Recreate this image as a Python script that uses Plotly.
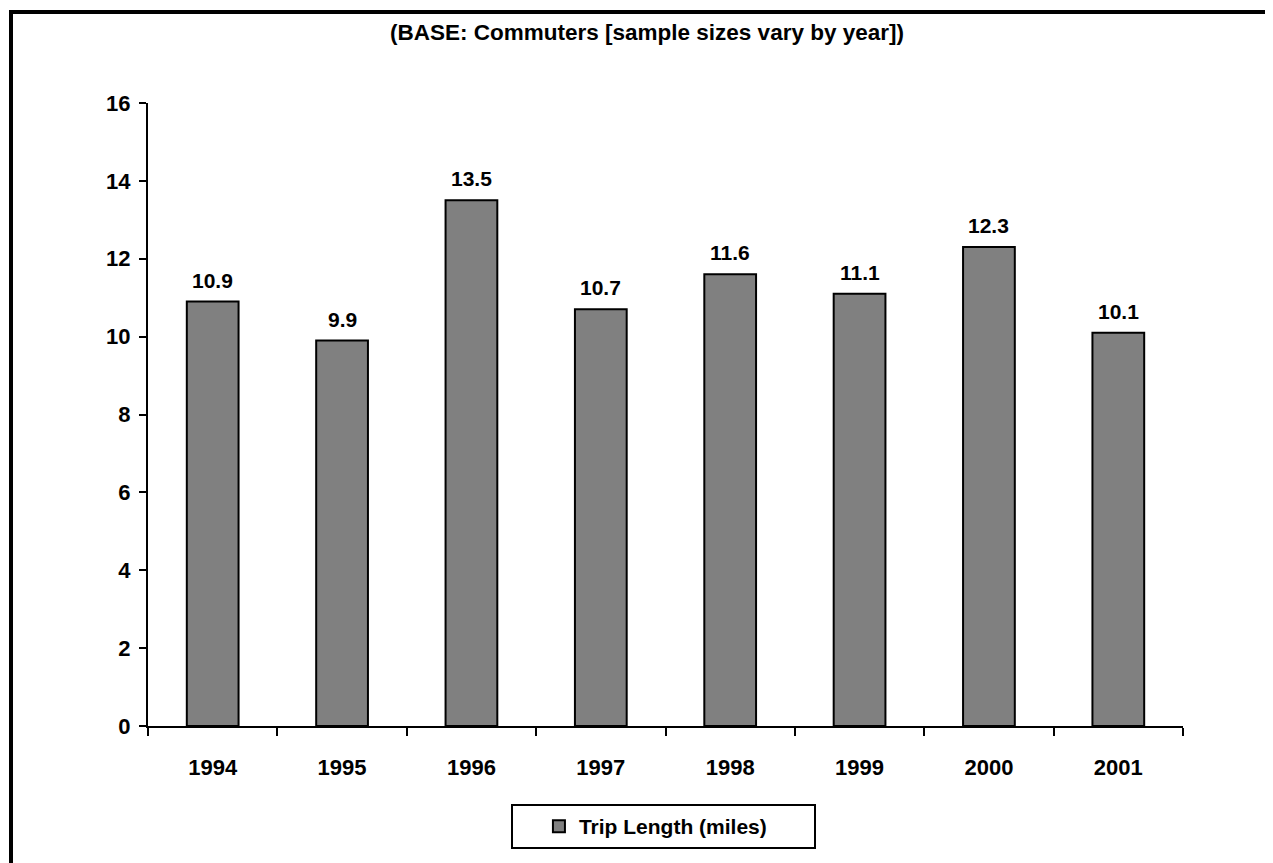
import plotly.graph_objects as go

years = ["1994", "1995", "1996", "1997", "1998", "1999", "2000", "2001"]
trip_length = [10.9, 9.9, 13.5, 10.7, 11.6, 11.1, 12.3, 10.1]
series_name = "Trip Length (miles)"
title_text = "(BASE: Commuters [sample sizes vary by year])"

# the page puts the figure 8px in from the top-left corner
W, H = 1265, 855
ML, MR, MT, MB = 140, 90, 95, 137
PW, PH = W - ML - MR, H - MT - MB
FONT = "Arial, Liberation Sans, sans-serif"


def px_x(p):
    return (p - ML) / PW


def px_y(p):
    return (H - MB - p) / PH


fig = go.Figure()
fig.add_trace(go.Bar(
    x=years, y=trip_length, name=series_name,
    marker=dict(color="#808080", line=dict(color="black", width=2)),
    showlegend=True,
))

# value labels above each bar (category index, since "1994" reads as a number)
for i, v in enumerate(trip_length):
    fig.add_annotation(x=i, y=v, text="%.1f" % v, showarrow=False,
                       yanchor="bottom", yshift=8,
                       font=dict(family=FONT, size=21, color="black",
                                 weight="bold"))

# frame lines (top and left) of the chart area
fig.add_shape(type="line", xref="paper", yref="paper",
              x0=px_x(1), x1=px_x(W + 5), y0=px_y(4), y1=px_y(4),
              line=dict(color="black", width=4))
fig.add_shape(type="line", xref="paper", yref="paper",
              x0=px_x(3), x1=px_x(3), y0=px_y(2), y1=px_y(H + 5),
              line=dict(color="black", width=4))

fig.update_layout(
    width=W, height=H,
    margin=dict(l=ML, r=MR, t=MT, b=MB),
    paper_bgcolor="white", plot_bgcolor="white",
    font=dict(family=FONT, size=21, color="black", weight="bold"),
    title=dict(text=title_text, x=639 / W, xanchor="center",
               y=1 - 24 / H, yanchor="middle",
               font=dict(family=FONT, size=22.5, color="black", weight="bold")),
    bargap=0.6,
    showlegend=True,
    legend=dict(orientation="h", x=0.498, xanchor="center",
                y=px_y(796), yanchor="top",
                bordercolor="black", borderwidth=2, bgcolor="white",
                font=dict(family=FONT, size=21, color="black", weight="bold"),
                indentation=26, entrywidth=230),
    xaxis=dict(type="category", range=[-0.5, len(years) - 0.5],
               tickson="boundaries", ticks="outside",
               ticklen=8, tickwidth=2, tickcolor="black",
               showline=True, linecolor="black", linewidth=2,
               showgrid=False, ticklabelstandoff=21,
               tickfont=dict(family=FONT, size=22, weight="bold")),
    yaxis=dict(range=[0, 16], dtick=2, ticks="outside", ticklen=7,
               tickwidth=2, tickcolor="black",
               showline=True, linecolor="black", linewidth=2,
               showgrid=False, zeroline=False, ticklabelstandoff=4,
               tickfont=dict(family=FONT, size=22, weight="bold")),
)

fig.write_html("out.html")
